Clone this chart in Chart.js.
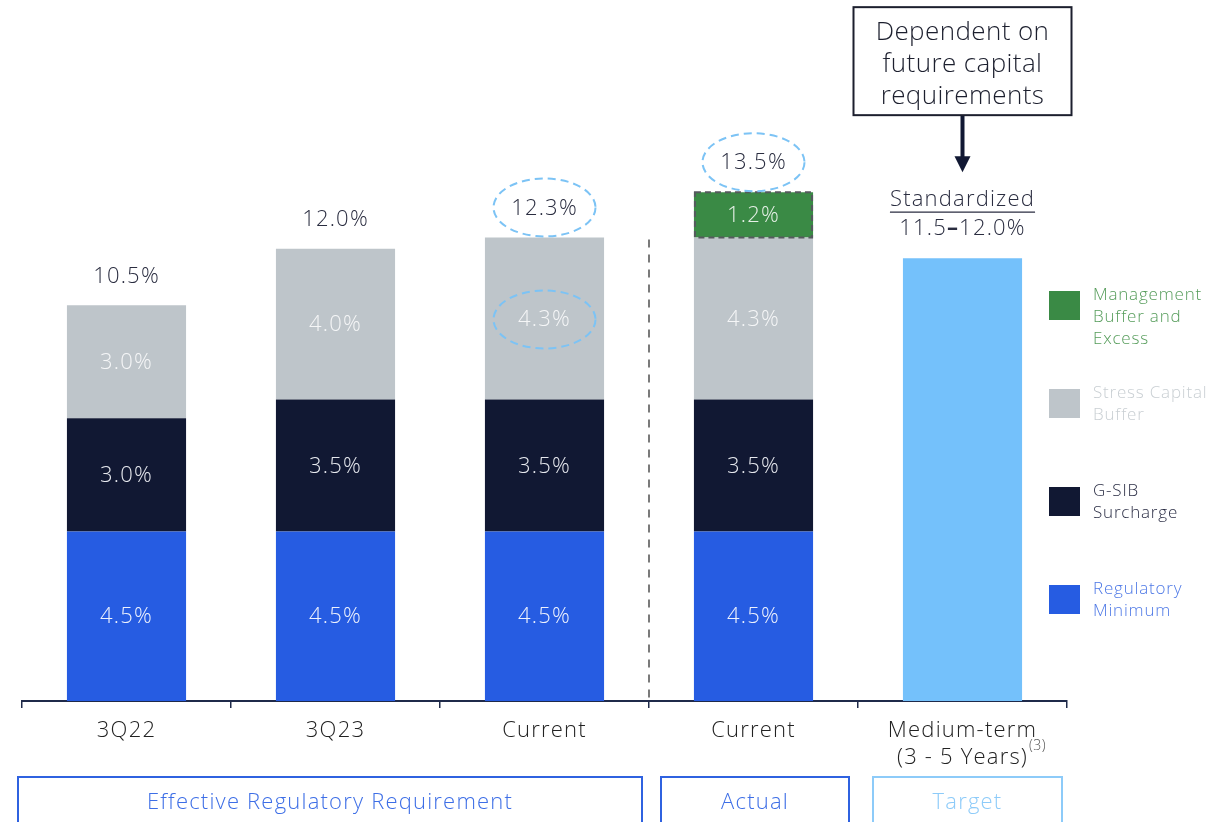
<!DOCTYPE html>
<html>
<head>
<meta charset="utf-8">
<script src="https://cdn.jsdelivr.net/npm/chart.js@4.4.1/dist/chart.umd.min.js"></script>
<style>
  html, body { margin: 0; padding: 0; background: #fff; }
</style>
</head>
<body>
<canvas id="capital-chart" width="1226" height="822"></canvas>
<script>
// 1. DATOS
const categories = ['3Q22', '3Q23', 'Current', 'Current', ['Medium-term', '(3 - 5 Years)']];
const regulatoryMinimum = [4.5, 4.5, 4.5, 4.5, null];
const gsibSurcharge = [3.0, 3.5, 3.5, 3.5, null];
const stressCapitalBuffer = [3.0, 4.0, 4.3, 4.3, null];
const managementBuffer = [null, null, null, 1.2, null];
const mediumTermTarget = [null, null, null, null, 11.75];
const targetRange = [11.5, 12.0];
const groupLabels = ['Effective Regulatory Requirement', 'Actual', 'Target'];
const groupRanges = [[0, 2], [3, 3], [4, 4]];
const legendLabels = [
    ['Management', 'Buffer and', 'Excess'],
    ['Stress Capital', 'Buffer'],
    ['G-SIB', 'Surcharge'],
    ['Regulatory', 'Minimum']
];
const calloutLines = ['Dependent on', 'future capital', 'requirements'];

// 2. ESTILOS
const FONT = "'Open Sans', 'Lato', sans-serif";
const SPACING = '1.2px';
const COLORS = {
    regMin: '#265CE2', gsib: '#111833', stress: '#BEC5CA', mgmt: '#3A8A45', target: '#74C1FB',
    text: '#2A2D40', axis: '#1F2A4A', ellipse: '#7CC3F5'
};
const legendStyle = [
    { swatch: COLORS.mgmt, text: '#559C5A' },
    { swatch: COLORS.stress, text: '#C9CFD3' },
    { swatch: COLORS.gsib, text: '#2B2E45' },
    { swatch: COLORS.regMin, text: '#4D78E6' }
];
const groupStyle = [
    { stroke: '#2F62E0', text: '#3D6EE6', l: -4, r: -7 },
    { stroke: '#2F62E0', text: '#3D6EE6', l: 12, r: -9 },
    { stroke: '#8DCBF9', text: '#8DCBF9', l: 15, r: -5 }
];

function dashedEllipse(ctx, cx, cy, rx, ry) {
    ctx.save();
    ctx.strokeStyle = COLORS.ellipse;
    ctx.lineWidth = 2;
    ctx.setLineDash([8, 5]);
    ctx.beginPath();
    ctx.ellipse(cx, cy, rx, ry, 0, 0, Math.PI * 2);
    ctx.stroke();
    ctx.restore();
}

// 3. PLUGINS
const spacingPlugin = {
    id: 'spacing',
    beforeDraw(chart) { chart.ctx.letterSpacing = SPACING; }
};

const overlayPlugin = {
    id: 'overlay',
    afterDatasetsDraw(chart) {
        const ctx = chart.ctx;
        const xs = chart.scales.x;
        const ys = chart.scales.y;
        const area = chart.chartArea;
        const half = (xs.getPixelForValue(1) - xs.getPixelForValue(0)) / 2;
        ctx.save();
        ctx.letterSpacing = SPACING;
        ctx.textAlign = 'center';
        ctx.textBaseline = 'middle';

        // etiquetas de segmento
        chart.data.datasets.forEach((ds, di) => {
            if (!ds.labelColor) return;
            chart.getDatasetMeta(di).data.forEach((bar, i) => {
                const v = ds.data[i];
                if (v == null) return;
                ctx.fillStyle = ds.labelColor;
                ctx.font = `300 22px ${FONT}`;
                ctx.fillText(v.toFixed(1) + '%', bar.x, (bar.y + bar.base) / 2 + 1);
            });
        });

        // borde punteado del buffer de gestión
        chart.getDatasetMeta(3).data.forEach((bar, i) => {
            if (managementBuffer[i] == null) return;
            ctx.save();
            ctx.strokeStyle = '#555a5e';
            ctx.lineWidth = 2;
            ctx.setLineDash([6, 4]);
            ctx.strokeRect(bar.x - bar.width / 2 + 1, bar.y, bar.width - 2, bar.base - bar.y);
            ctx.restore();
        });

        // totales
        for (let i = 0; i < 4; i++) {
            const total = [regulatoryMinimum, gsibSurcharge, stressCapitalBuffer, managementBuffer]
                .reduce((s, arr) => s + (arr[i] || 0), 0);
            const cx = xs.getPixelForValue(i);
            const cy = ys.getPixelForValue(total) - 29;
            ctx.fillStyle = COLORS.text;
            ctx.font = `300 22px ${FONT}`;
            ctx.fillText(total.toFixed(1) + '%', cx, cy);
            if (i >= 2) dashedEllipse(ctx, cx, cy - 1, 51, 29);
        }
        // elipse en 4.3% (Current requerido)
        const sBar = chart.getDatasetMeta(2).data[2];
        dashedEllipse(ctx, sBar.x, (sBar.y + sBar.base) / 2 + 1, 51, 29);

        // divisor vertical
        const divX = xs.getPixelForValue(2) + half;
        ctx.save();
        ctx.strokeStyle = '#7a7a7a';
        ctx.lineWidth = 2;
        ctx.setLineDash([8, 7]);
        ctx.beginPath();
        ctx.moveTo(divX, ys.getPixelForValue(12.3) + 2);
        ctx.lineTo(divX, area.bottom);
        ctx.stroke();
        ctx.restore();

        // objetivo medio plazo
        const tBar = chart.getDatasetMeta(4).data[4];
        const tx = tBar.x;
        const top = tBar.y;
        ctx.fillStyle = COLORS.text;
        ctx.font = `300 22px ${FONT}`;
        const a = targetRange[0].toFixed(1), b = targetRange[1].toFixed(1) + '%';
        const wa = ctx.measureText(a).width, wb = ctx.measureText(b).width;
        ctx.font = `700 22px ${FONT}`;
        const wd = ctx.measureText('\u2013').width;
        const x0 = tx - (wa + wd + wb) / 2;
        ctx.textAlign = 'left';
        ctx.fillText('\u2013', x0 + wa, top - 29);
        ctx.font = `300 22px ${FONT}`;
        ctx.fillText(a, x0, top - 29);
        ctx.fillText(b, x0 + wa + wd, top - 29);
        ctx.textAlign = 'center';
        ctx.fillText('Standardized', tx, top - 58);
        const sw = ctx.measureText('Standardized').width;
        ctx.strokeStyle = COLORS.text;
        ctx.lineWidth = 1.2;
        ctx.beginPath();
        ctx.moveTo(tx - sw / 2, top - 46);
        ctx.lineTo(tx + sw / 2, top - 46);
        ctx.stroke();

        // flecha
        ctx.strokeStyle = COLORS.gsib;
        ctx.lineWidth = 4;
        ctx.beginPath();
        ctx.moveTo(tx, top - 143);
        ctx.lineTo(tx, top - 100);
        ctx.stroke();
        ctx.fillStyle = COLORS.gsib;
        ctx.beginPath();
        ctx.moveTo(tx - 8, top - 102);
        ctx.lineTo(tx + 8, top - 102);
        ctx.lineTo(tx, top - 86);
        ctx.closePath();
        ctx.fill();

        // caja de llamada
        ctx.strokeStyle = '#1c1f2e';
        ctx.lineWidth = 2;
        ctx.strokeRect(tx - 109, top - 251, 218, 108);
        ctx.fillStyle = '#1c1f2e';
        ctx.font = `300 26px ${FONT}`;
        ctx.letterSpacing = '0.4px';
        calloutLines.forEach((ln, k) => ctx.fillText(ln, tx, top - 226 + k * 32));
        ctx.letterSpacing = SPACING;

        // superíndice (3)
        ctx.font = `300 22px ${FONT}`;
        const w2 = ctx.measureText(categories[4][1]).width;
        ctx.font = `300 14px ${FONT}`;
        ctx.fillStyle = '#555';
        ctx.textAlign = 'left';
        ctx.letterSpacing = '0.5px';
        ctx.fillText('(3)', tx + w2 / 2 + 1, area.bottom + 45);

        // leyenda
        ctx.letterSpacing = '0.8px';
        legendLabels.forEach((lines, k) => {
            const sy = 291 + k * 98;
            ctx.fillStyle = legendStyle[k].swatch;
            ctx.fillRect(area.right - 18, sy, 31, 29);
            ctx.fillStyle = legendStyle[k].text;
            ctx.font = `300 17px ${FONT}`;
            ctx.textAlign = 'left';
            lines.forEach((ln, j) => ctx.fillText(ln, area.right + 26, sy + 4 + j * 22));
        });

        // cajas de grupo
        ctx.letterSpacing = SPACING;
        ctx.textAlign = 'center';
        groupRanges.forEach((rg, g) => {
            const st = groupStyle[g];
            const l = xs.getPixelForValue(rg[0]) - half + st.l;
            const r = xs.getPixelForValue(rg[1]) + half + st.r;
            ctx.strokeStyle = st.stroke;
            ctx.lineWidth = 2;
            ctx.strokeRect(l, area.bottom + 76, r - l, 60);
            ctx.fillStyle = st.text;
            ctx.font = `300 22px ${FONT}`;
            ctx.fillText(groupLabels[g], (l + r) / 2, area.bottom + 102);
        });
        ctx.restore();
    }
};

// 4. GRÁFICA
const ctx = document.getElementById('capital-chart').getContext('2d');
const capitalChart = new Chart(ctx, {
    type: 'bar',
    data: {
        labels: categories,
        datasets: [
            { label: 'Regulatory Minimum', data: regulatoryMinimum, backgroundColor: COLORS.regMin, labelColor: '#EEF2FD' },
            { label: 'G-SIB Surcharge', data: gsibSurcharge, backgroundColor: COLORS.gsib, labelColor: '#E6E8EE' },
            { label: 'Stress Capital Buffer', data: stressCapitalBuffer, backgroundColor: COLORS.stress, labelColor: '#F5F6F7' },
            { label: 'Management Buffer and Excess', data: managementBuffer, backgroundColor: COLORS.mgmt, labelColor: '#E6F0E7' },
            { label: 'Target', data: mediumTermTarget, backgroundColor: COLORS.target }
        ]
    },
    options: {
        responsive: false, animation: false,
        layout: { padding: { left: 22, right: 159, top: 0, bottom: 0 } },
        datasets: { bar: { barPercentage: 0.57, categoryPercentage: 1.0 } },
        plugins: { legend: { display: false }, tooltip: { enabled: false } },
        scales: {
            x: {
                stacked: true,
                afterFit: (scale) => { scale.height = 121; },
                border: { display: true, color: COLORS.axis, width: 2 },
                grid: { display: true, offset: true, drawOnChartArea: false, drawTicks: true, tickLength: 7, color: COLORS.axis, lineWidth: 1.5 },
                ticks: { color: '#222', font: { family: FONT, size: 22, weight: 300, lineHeight: 1.22 }, padding: 9, maxRotation: 0, autoSkip: false }
            },
            y: { stacked: true, display: false, min: 0, max: 18.6 }
        }
    },
    plugins: [spacingPlugin, overlayPlugin]
});
</script>
</body>
</html>
